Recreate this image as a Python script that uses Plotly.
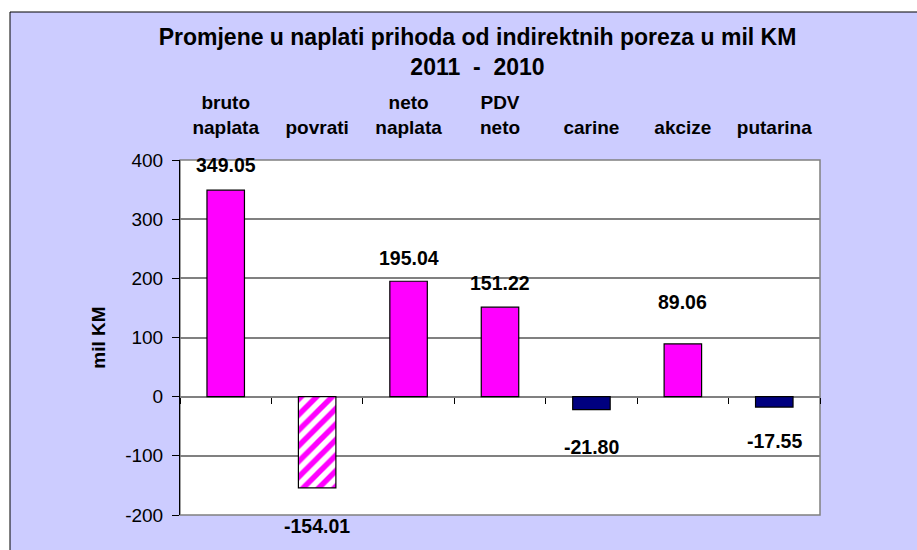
import plotly.graph_objects as go

categories = ["bruto<br>naplata", "povrati", "neto<br>naplata", "PDV<br>neto", "carine", "akcize", "putarina"]
values = [349.05, -154.01, 195.04, 151.22, -21.80, 89.06, -17.55]
value_labels = ["349.05", "-154.01", "195.04", "151.22", "-21.80", "89.06", "-17.55"]
y_ticks = [-200, -100, 0, 100, 200, 300, 400]

bar_colors = ["#FF00FF", "white", "#FF00FF", "#FF00FF", "#000080", "#FF00FF", "#000080"]
hatched = [False, True, False, False, False, False, False]
label_shift = [25, -38, 23, 24, -37, 42, -34]

FONT = "Arial, Liberation Sans, sans-serif"
W, H = 917, 550
ML, MR, MT, MB = 180, 97, 160, 35
PW, PH = W - ML - MR, H - MT - MB

def px_x(p):
    return (p - ML) / PW

def px_y(p):
    return (H - MB - p) / PH

plain_vals = [None if h else v for v, h in zip(values, hatched)]
hatch_vals = [v if h else None for v, h in zip(values, hatched)]

fig = go.Figure()
fig.add_trace(go.Bar(
    x=categories, y=plain_vals, width=0.41,
    marker=dict(color=bar_colors, line=dict(color="black", width=1.2)),
    showlegend=False, hoverinfo="skip",
))
fig.add_trace(go.Bar(
    x=categories, y=hatch_vals, width=0.41,
    marker=dict(color="white", line=dict(color="black", width=1.2),
                pattern=dict(shape="/", fgcolor="#FF00FF", bgcolor="white",
                             fgopacity=1, size=11, solidity=0.5)),
    showlegend=False, hoverinfo="skip",
))
# helper trace for the zero-axis tick marks
fig.add_trace(go.Scatter(x=list(range(len(values))), y=values, mode="none",
                         xaxis="x2", showlegend=False, hoverinfo="skip"))

for i, (c, v, t) in enumerate(zip(categories, values, value_labels)):
    fig.add_annotation(x=c, y=v, text=t, showarrow=False, yshift=label_shift[i],
                       xref="x", yref="y",
                       font=dict(family=FONT, size=19.5, color="black", weight="bold"))

shapes = [
    dict(type="rect", xref="paper", yref="paper", x0=px_x(10), x1=px_x(960), y0=px_y(600), y1=px_y(12),
         fillcolor="#CCCCFF", line=dict(color="black", width=1), layer="below"),
    dict(type="rect", xref="paper", yref="paper", x0=0, x1=1, y0=0, y1=1,
         fillcolor="white", line=dict(color="#808080", width=1.5), layer="below"),
    dict(type="line", xref="paper", yref="y", x0=0, x1=1, y0=100, y1=100,
         line=dict(color="black", width=1), layer="between"),
]

fig.update_layout(
    width=W, height=H,
    margin=dict(l=ML, r=MR, t=MT, b=MB, autoexpand=False),
    paper_bgcolor="white", plot_bgcolor="white",
    font=dict(family=FONT, color="black"),
    barmode="overlay",
    title=dict(text="Promjene u naplati prihoda od indirektnih poreza u mil KM<br>2011  -  2010",
               x=477.5 / W, xanchor="center", xref="container",
               y=1 - 45 / H, yanchor="top", yref="container",
               font=dict(family=FONT, size=23, color="black", weight="bold")),
    shapes=shapes,
    xaxis=dict(type="category", side="top", showline=False, ticks="", showgrid=False, zeroline=False,
               automargin=False,
               tickfont=dict(family=FONT, size=19, color="black", weight="bold"),
               ticklabelstandoff=21, range=[-0.5, len(categories) - 0.5]),
    xaxis2=dict(overlaying="x", anchor="free", position=1 / 3, automargin=False,
                side="bottom", range=[-0.5, len(categories) - 0.5],
                tickmode="array", tickvals=[i - 0.5 for i in range(len(categories) + 1)],
                ticks="outside", ticklen=6, tickcolor="black", tickwidth=1,
                showticklabels=False, showline=False, showgrid=False, zeroline=False),
    yaxis=dict(range=[-200, 400], tickmode="array", tickvals=y_ticks, ticktext=[str(t) for t in y_ticks],
               showline=True, linecolor="black", linewidth=1, automargin=False,
               ticks="outside", ticklen=7, tickcolor="black", ticklabelstandoff=5,
               showgrid=True, gridcolor="#808080", gridwidth=1.5,
               zeroline=True, zerolinecolor="#808080", zerolinewidth=2,
               tickfont=dict(family=FONT, size=19, color="black"),
               title=dict(text="mil KM", standoff=14,
                          font=dict(family=FONT, size=19, color="black", weight="bold"))),
)

fig.write_html("out.html", post_script="document.body.style.margin='0';",
               config={"displayModeBar": False})
